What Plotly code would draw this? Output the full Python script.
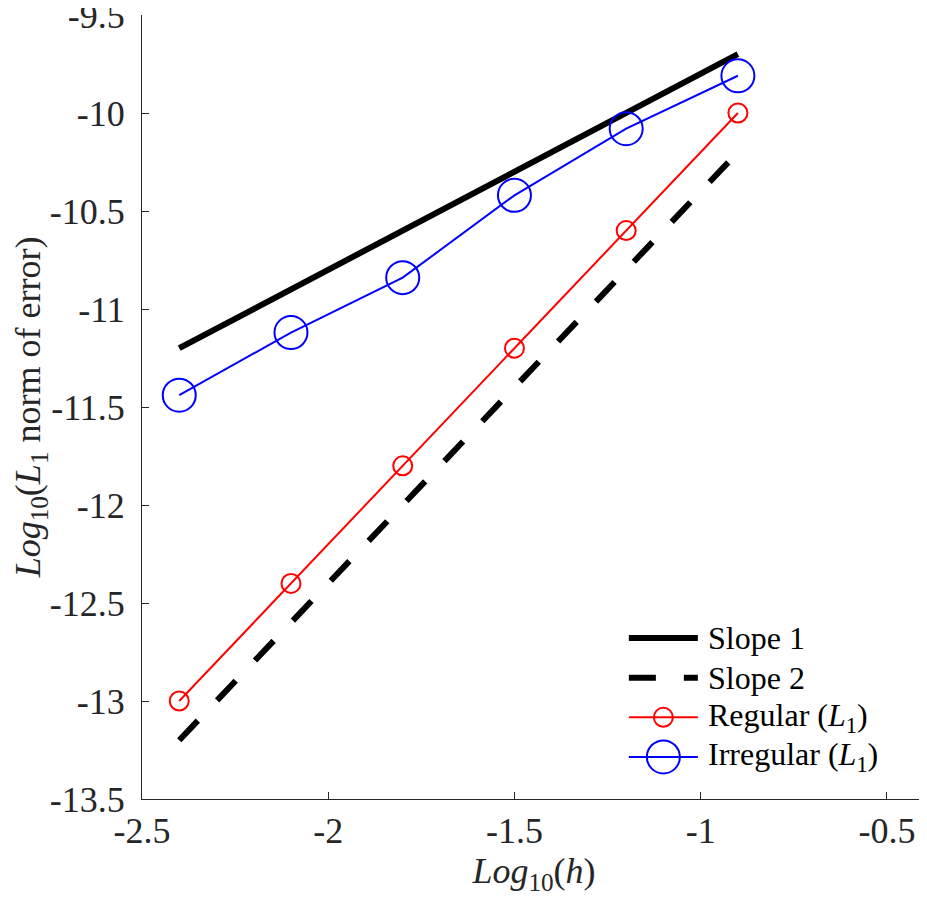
import plotly.graph_objects as go

# log10(h) values
log_h = [-2.4, -2.1, -1.8, -1.5, -1.2, -0.9]
# log10 of L1 error
regular_err = [-13.0, -12.4, -11.8, -11.2, -10.6, -10.0]
irregular_err = [-11.44, -11.12, -10.84, -10.42, -10.08, -9.81]
# reference slopes (end points only)
slope_x = [-2.4, -0.9]
slope1_y = [-11.2, -9.7]
slope2_y = [-13.2, -10.2]

xtick_vals = [-2.5, -2, -1.5, -1, -0.5]
xtick_text = ['-2.5', '-2', '-1.5', '-1', '-0.5']
ytick_vals = [-9.5, -10, -10.5, -11, -11.5, -12, -12.5, -13, -13.5]
ytick_text = ['-9.5', '-10', '-10.5', '-11', '-11.5', '-12', '-12.5', '-13', '-13.5']

legend_names = ['Slope 1', 'Slope 2',
                'Regular (<i>L</i><sub>1</sub>)', 'Irregular (<i>L</i><sub>1</sub>)']

FONT = 'Liberation Serif'
axis_col = '#262626'


def serif(txt):
    return '<span style="font-family:Liberation Serif">' + txt + '</span>'


styles = [
    dict(mode='lines', line=dict(color='black', width=6)),
    dict(mode='lines', line=dict(color='black', width=6, dash='27px,28px')),
    dict(mode='lines+markers', line=dict(color='red', width=2),
         marker=dict(symbol='circle-open', size=19, color='red', line=dict(width=2, color='red'))),
    dict(mode='lines+markers', line=dict(color='blue', width=2),
         marker=dict(symbol='circle-open', size=33, color='blue', line=dict(width=2, color='blue'))),
]

fig = go.Figure()
series = [(slope_x, slope1_y), (slope_x, slope2_y), (log_h, regular_err), (log_h, irregular_err)]
for (xs, ys), st, nm in zip(series, styles, legend_names):
    fig.add_trace(go.Scatter(x=xs, y=ys, name=nm, showlegend=False, **st))

# MATLAB-like legend drawn on an overlay axis (0..1 of the plot area)
leg_x0, leg_x1, leg_tx = 0.621, 0.709, 0.719
leg_top, leg_step = 0.2054, 0.0506
for i, (st, nm) in enumerate(zip(styles, legend_names)):
    yy = leg_top - i * leg_step
    fig.add_trace(go.Scatter(x=[leg_x0, leg_x1], y=[yy, yy], mode='lines',
                             line=st['line'], xaxis='x2', yaxis='y2',
                             showlegend=False, hoverinfo='skip'))
    if 'marker' in st:
        fig.add_trace(go.Scatter(x=[(leg_x0 + leg_x1) / 2], y=[yy], mode='markers',
                                 marker=st['marker'], xaxis='x2', yaxis='y2',
                                 showlegend=False, hoverinfo='skip'))
    fig.add_annotation(x=leg_tx, y=yy, xref='paper', yref='paper', text=serif(nm),
                       showarrow=False, xanchor='left', yanchor='middle',
                       font=dict(family=FONT, size=32, color='black'))

fig.update_xaxes(range=[-2.5, -0.395], tickvals=xtick_vals,
                 ticktext=[serif(t) for t in xtick_text],
                 showline=True, linecolor=axis_col, linewidth=1, mirror=False,
                 ticks='inside', ticklen=7, tickcolor=axis_col, showgrid=False,
                 zeroline=False, ticklabelstandoff=0, ticklabeloverflow='allow',
                 tickfont=dict(family=FONT, size=36, color=axis_col),
                 title=dict(text=serif('<i>Log</i><sub>10</sub>(<i>h</i>)'), standoff=4,
                            font=dict(family=FONT, size=36, color=axis_col)))
fig.update_yaxes(range=[-13.5, -9.5], tickvals=ytick_vals,
                 ticktext=[serif(t) for t in ytick_text],
                 showline=True, linecolor=axis_col, linewidth=1, mirror=False,
                 ticks='inside', ticklen=7, tickcolor=axis_col, showgrid=False,
                 zeroline=False, ticklabelstandoff=9, ticklabeloverflow='allow',
                 tickfont=dict(family=FONT, size=36, color=axis_col),
                 title=dict(text=serif('<i>Log</i><sub>10</sub>(<i>L</i><sub>1</sub> norm of error)'),
                            standoff=10,
                            font=dict(family=FONT, size=36, color=axis_col)))

fig.update_layout(
    width=919, height=892,
    margin=dict(l=134, r=1, t=7, b=101, autoexpand=False),
    font=dict(family=FONT, size=36, color=axis_col),
    plot_bgcolor='white', paper_bgcolor='white',
    showlegend=False,
    xaxis2=dict(overlaying='x', range=[0, 1], visible=False, fixedrange=True),
    yaxis2=dict(overlaying='y', range=[0, 1], visible=False, fixedrange=True),
)

fig.write_html("out.html")
